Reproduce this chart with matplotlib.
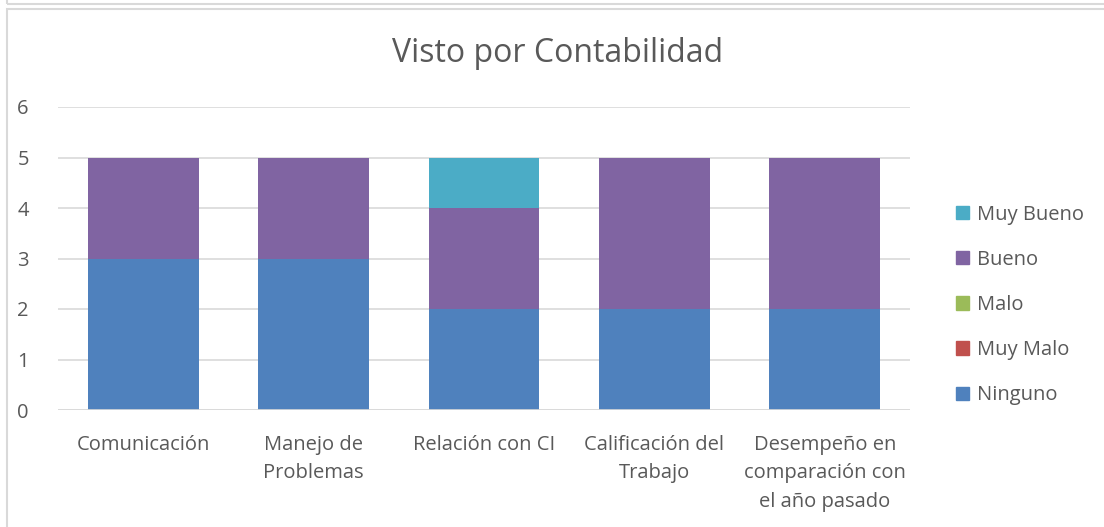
import matplotlib.pyplot as plt
import numpy as np
from matplotlib.patches import Rectangle, Patch

plt.rcParams['font.family'] = ['Open Sans', 'DejaVu Sans']

categories = ['Comunicación', 'Manejo de\nProblemas', 'Relación con CI',
              'Calificación del\nTrabajo', 'Desempeño en\ncomparación con\nel año pasado']
series = ['Ninguno', 'Muy Malo', 'Malo', 'Bueno', 'Muy Bueno']
ninguno = [3, 3, 2, 2, 2]
muy_malo = [0, 0, 0, 0, 0]
malo = [0, 0, 0, 0, 0]
bueno = [2, 2, 2, 3, 3]
muy_bueno = [0, 0, 1, 0, 0]
colors = ['#4F81BD', '#C0504D', '#9BBB59', '#8064A2', '#4BACC6']
text_col = '#595959'

fig = plt.figure(figsize=(11.04, 5.27), dpi=100)
# chart border
fig.patches.append(Rectangle((7 / 1104, -0.1), 1.2, (527 - 9) / 527 + 0.1, transform=fig.transFigure,
                             fill=False, edgecolor='#D9D9D9', linewidth=1.5))
fig.patches.append(Rectangle((7 / 1104, 1 - 4 / 527), 1.2, 0.1, transform=fig.transFigure,
                             fill=False, edgecolor='#D9D9D9', linewidth=1.5))

ax = fig.add_axes([58 / 1104, 1 - 410 / 527, (910 - 58) / 1104, (410 - 107) / 527])
x = np.arange(len(categories))
bottom = np.zeros(len(categories))
for name, vals, c in zip(series, [ninguno, muy_malo, malo, bueno, muy_bueno], colors):
    ax.bar(x, vals, 0.65, bottom=bottom, color=c, label=name, zorder=3)
    bottom += np.array(vals)

ax.set_xlim(-0.5, len(categories) - 0.5)
ax.set_ylim(0, 6)
ax.set_yticks(range(0, 7))
ax.yaxis.grid(True, color='#D9D9D9', linewidth=1.2, zorder=0)
for s in ax.spines.values():
    s.set_visible(False)
ax.axhline(0, color='#D9D9D9', linewidth=1.2, zorder=4)
ax.tick_params(axis='both', length=0, labelsize=14.5, labelcolor=text_col)
ax.tick_params(axis='y', pad=21)
ax.tick_params(axis='x', pad=18)
ax.set_xticks(x)
ax.set_xticklabels(categories, linespacing=1.55, va='top')

fig.text(558 / 1104, 1 - 54 / 527, 'Visto por Contabilidad', ha='center', va='center',
         fontsize=23, color=text_col)

handles = [Patch(color=c) for c in colors][::-1]
fig.legend(handles, series[::-1], loc='center left', bbox_to_anchor=(938 / 1104, 1 - 305 / 527),
           frameon=False, fontsize=14.5, labelcolor=text_col, handlelength=0.65, handleheight=0.65,
           handletextpad=0.4, labelspacing=1.25)

fig.savefig('out.png', dpi=100)
